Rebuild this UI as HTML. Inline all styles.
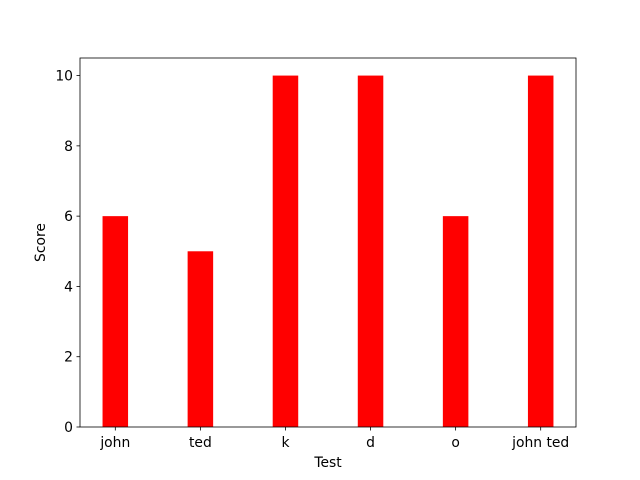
<!DOCTYPE html>
<html><head><meta charset="utf-8"><style>
html,body{margin:0;padding:0;background:#fff;}
svg{display:block;font-family:"DejaVu Sans","Liberation Sans",sans-serif;}
</style></head><body>
<svg id="chart" width="640" height="480"></svg>
<script>
const categories = ["john","ted","k","d","o","john ted"];
const scores = [6,5,10,10,6,10];
const yTicks = [0,2,4,6,8,10];

const L=80,R=576,T=58,B=427;
const xMin=-0.415,xMax=5.415,yMin=0,yMax=10.5,barW=0.3;
const FS=13.89;
const sx=v=>L+(v-xMin)/(xMax-xMin)*(R-L);
const sy=v=>B-(v-yMin)/(yMax-yMin)*(B-T);
const svg=document.getElementById('chart');
const NS='http://www.w3.org/2000/svg';
function mk(tag,attrs,txt){const e=document.createElementNS(NS,tag);for(const k in attrs)e.setAttribute(k,attrs[k]);if(txt!==undefined)e.textContent=txt;svg.appendChild(e);return e;}

categories.forEach((c,i)=>{
  const x0=sx(i-barW/2),x1=sx(i+barW/2),y=sy(scores[i]);
  const r=mk('rect',{x:x0,y:y,width:x1-x0,height:B-y,fill:'#ff0000'});
  
  
  const t=mk('line',{x1:sx(i),x2:sx(i),y1:B,y2:B+3.5,stroke:'#000','stroke-width':0.8});
  
  
  const lb=mk('text',{x:sx(i),y:B+20,'text-anchor':'middle','font-size':FS,fill:'#000'},c);
  
  
});
yTicks.forEach(v=>{
  const t=mk('line',{x1:L-3.5,x2:L,y1:sy(v),y2:sy(v),stroke:'#000','stroke-width':0.8});
  
  
  const lb=mk('text',{x:L-7,y:sy(v)+5,'text-anchor':'end','font-size':FS,fill:'#000'},String(v));
  
  
});
const frame=mk('rect',{x:L,y:T,width:R-L,height:B-T,fill:'none',stroke:'#000','stroke-width':0.8});


const xt=mk('text',{x:(L+R)/2,y:467,'text-anchor':'middle','font-size':FS,fill:'#000'},'Test');


const yt=mk('text',{x:45,y:(T+B)/2,'text-anchor':'middle','font-size':FS,fill:'#000',transform:'rotate(-90 45 '+((T+B)/2)+')'},'Score');


</script>
</body></html>
